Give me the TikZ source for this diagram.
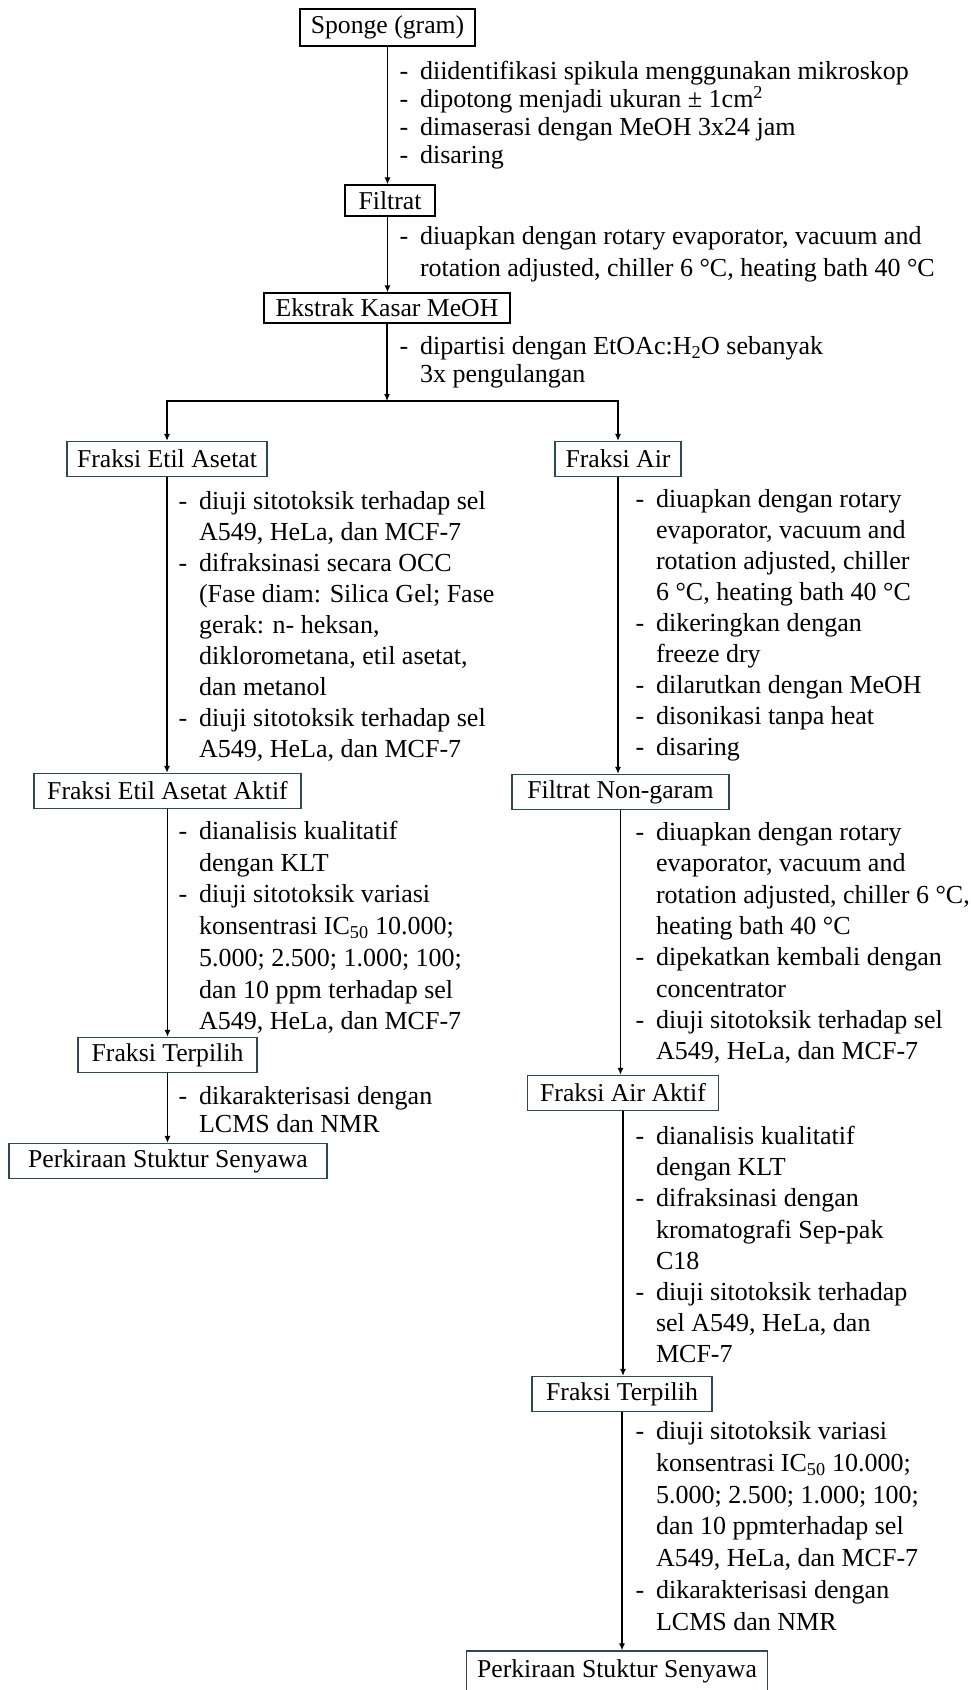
\documentclass[tikz,border=0pt]{standalone}
\usepackage{fontspec}
\setmainfont{Liberation Serif}
\usetikzlibrary{arrows.meta}
\definecolor{boxline}{RGB}{47,72,88}
\newcommand{\dsh}{\rule{0pt}{20pt}\makebox[20.5pt][l]{-}}
\newcommand{\ind}{\hspace*{20.5pt}}
\tikzset{
	stage/.style={draw=#1, line width=1.4pt, minimum height=35pt, inner sep=0pt,
		font=\fontsize{25.7}{31}\selectfont},
	stage/.default=boxline,
	note/.style={anchor=north west, align=left, inner sep=0pt,
		font=\fontsize{26}{#1}\selectfont},
	note/.default=31
}

\begin{document}
\begin{tikzpicture}[>={Latex[length=7pt,width=6pt]}, x=1pt, y=-1pt, line width=1.1pt]
	\useasboundingbox (0,0) rectangle (971,1690);
	% main line
	\node[stage=black, minimum width=175pt, minimum height=37pt] (sponge) at (387.5,27.5) {Sponge (gram)};
	\node[stage=black, minimum width=90pt, minimum height=31pt] (filtrat) at (390,200.5) {Filtrat};
	\node[stage=black, minimum width=246pt, minimum height=30pt] (ekstrak) at (387,308) {Ekstrak Kasar MeOH};
	\coordinate (split) at (387,401);
	% left branch
	\node[stage, minimum width=200pt] (fea) at (167,459) {Fraksi Etil Asetat};
	\node[stage, minimum width=267pt] (feaaktif) at (167.5,791) {Fraksi Etil Asetat Aktif};
	\node[stage, minimum width=179pt] (fterpilihL) at (167.5,1055) {Fraksi Terpilih};
	\node[stage, minimum width=318pt] (perkiraanL) at (168,1161) {Perkiraan Stuktur Senyawa};
	% right branch
	\node[stage, minimum width=126pt] (fair) at (618,459) {Fraksi Air};
	\node[stage, minimum width=217pt] (fnongaram) at (620.5,792) {Filtrat Non-garam};
	\node[stage, minimum width=191pt] (fairaktif) at (623,1093) {Fraksi Air Aktif};
	\node[stage, minimum width=180pt] (fterpilihR) at (622,1394) {Fraksi Terpilih};
	\node[stage, minimum width=301pt, minimum height=40pt] (perkiraanR) at (617,1671) {Perkiraan Stuktur Senyawa};

	\draw[->] (sponge.south) -- (sponge.south |- filtrat.north);
	\draw[->] (filtrat.south -| sponge.south) -- (sponge.south |- ekstrak.north);
	\draw[->] (ekstrak.south) -- (split);
	\draw[->] (split) -| (fea.north);
	\draw[->] (split) -| (fair.north);
	\draw[->] (fea.south) -- (fea.south |- feaaktif.north);
	\draw[->] (feaaktif.south) -- (feaaktif.south |- fterpilihL.north);
	\draw[->] (fterpilihL.south) -- (fterpilihL.south |- perkiraanL.north);
	\draw[->] (fair.south) -- (fair.south |- fnongaram.north);
	\draw[->] (fnongaram.south) -- (fnongaram.south |- fairaktif.north);
	\draw[->] (fairaktif.south) -- (fairaktif.south |- fterpilihR.north);
	\draw[->] (fterpilihR.south) -- (fterpilihR.south |- perkiraanR.north);

	% steps (top edge = first baseline - 20)
	\node[note=28] (s1) at (399,59) {\dsh diidentifikasi spikula menggunakan mikroskop\\
		\dsh dipotong menjadi ukuran ± 1cm\textsuperscript{2}\\
		\dsh dimaserasi dengan MeOH 3x24 jam\\
		\dsh disaring};
	\node[note=32] (s2) at (399,224) {\dsh diuapkan dengan rotary evaporator, vacuum and\\
		\ind rotation adjusted, chiller 6 °C, heating bath 40 °C};
	\node[note=28] (s3) at (399,334) {\dsh dipartisi dengan EtOAc:H\textsubscript{2}O sebanyak\\
		\ind 3x pengulangan};
	\node[note] (s4) at (178,489) {\dsh diuji sitotoksik terhadap sel\\
		\ind A549, HeLa, dan MCF-7\\
		\dsh difraksinasi secara OCC\\
		\ind (Fase diam: Silica Gel; Fase\\
		\ind gerak: n- heksan,\\
		\ind diklorometana, etil asetat,\\
		\ind dan metanol\\
		\dsh diuji sitotoksik terhadap sel\\
		\ind A549, HeLa, dan MCF-7};
	\node[note] (s5) at (635,487) {\dsh diuapkan dengan rotary\\
		\ind evaporator, vacuum and\\
		\ind rotation adjusted, chiller\\
		\ind 6 °C, heating bath 40 °C\\
		\dsh dikeringkan dengan\\
		\ind freeze dry\\
		\dsh dilarutkan dengan MeOH\\
		\dsh disonikasi tanpa heat\\
		\dsh disaring};
	\node[note=31.7] (s6) at (178,819) {\dsh dianalisis kualitatif\\
		\ind dengan KLT\\
		\dsh diuji sitotoksik variasi\\
		\ind konsentrasi IC\textsubscript{50} 10.000;\\
		\ind 5.000; 2.500; 1.000; 100;\\
		\ind dan 10 ppm terhadap sel\\
		\ind A549, HeLa, dan MCF-7};
	\node[note=31.3] (s7) at (635,820) {\dsh diuapkan dengan rotary\\
		\ind evaporator, vacuum and\\
		\ind rotation adjusted, chiller 6 °C,\\
		\ind heating bath 40 °C\\
		\dsh dipekatkan kembali dengan\\
		\ind concentrator\\
		\dsh diuji sitotoksik terhadap sel\\
		\ind A549, HeLa, dan MCF-7};
	\node[note=28] (s8) at (178,1084) {\dsh dikarakterisasi dengan\\
		\ind LCMS dan NMR};
	\node[note=31.2] (s9) at (635,1124) {\dsh dianalisis kualitatif\\
		\ind dengan KLT\\
		\dsh difraksinasi dengan\\
		\ind kromatografi Sep-pak\\
		\ind C18\\
		\dsh diuji sitotoksik terhadap\\
		\ind sel A549, HeLa, dan\\
		\ind MCF-7};
	\node[note=31.8] (s10) at (635,1419) {\dsh diuji sitotoksik variasi\\
		\ind konsentrasi IC\textsubscript{50} 10.000;\\
		\ind 5.000; 2.500; 1.000; 100;\\
		\ind dan 10 ppmterhadap sel\\
		\ind A549, HeLa, dan MCF-7\\
		\dsh dikarakterisasi dengan\\
		\ind LCMS dan NMR};
\end{tikzpicture}
\end{document}
